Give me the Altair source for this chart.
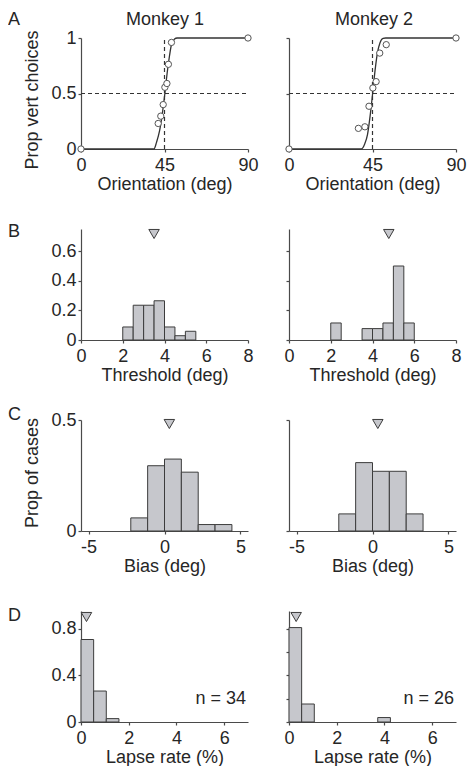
import altair as alt
import pandas as pd

FONT = "Liberation Sans"
FS = 18
BAR_FILL = "#c6c7cc"
EDGE = "#3c3c3c"
AXIS = "#4a4a4a"
TXT = "#262626"
W, H = 167, 111

# ---------------- Panel A: psychometric data ----------------
m1_ori = [0, 41.6, 43.0, 44.3, 45.2, 46.3, 47.1, 48.75, 90]
m1_prop = [0, 0.23, 0.296, 0.40, 0.556, 0.59, 0.763, 0.96, 1]
m2_ori = [0, 37.4, 40.9, 43.1, 45.2, 46.95, 48.9, 52.4, 90]
m2_prop = [0, 0.186, 0.20, 0.385, 0.55, 0.607, 0.864, 0.94, 1]
m1_fit_x = [0, 39.3, 40.7, 42.3, 43.75, 45.2, 46.4, 47.7, 48.9, 50.4, 51.8, 90]
m1_fit_y = [0, 0, 0.06, 0.16, 0.31, 0.50, 0.68, 0.84, 0.95, 0.99, 1, 1]
m2_fit_x = [0, 39.0, 40.8, 42.3, 43.8, 45.2, 46.4, 47.7, 49.1, 50.7, 52.1, 90]
m2_fit_y = [0, 0, 0.045, 0.13, 0.31, 0.52, 0.71, 0.87, 0.96, 0.997, 1, 1]

# ---------------- Panel B: threshold histograms ----------------
thr_m1_lo = [2.0, 2.5, 3.0, 3.5, 4.0, 4.5, 5.0]
thr_m1_hi = [2.5, 3.0, 3.5, 4.0, 4.5, 5.0, 5.5]
thr_m1_p = [0.088, 0.235, 0.235, 0.265, 0.088, 0.029, 0.059]
thr_m2_lo = [2.0, 3.5, 4.0, 4.5, 5.0, 5.5]
thr_m2_hi = [2.5, 4.0, 4.5, 5.0, 5.5, 6.0]
thr_m2_p = [0.115, 0.077, 0.077, 0.115, 0.5, 0.115]
thr_mean = [3.5, 4.78]

# ---------------- Panel C: bias histograms ----------------
bias_m1_lo = [-2.22, -1.11, 0.0, 1.11, 2.22, 3.33]
bias_m1_hi = [-1.11, 0.0, 1.11, 2.22, 3.33, 4.44]
bias_m1_p = [0.059, 0.294, 0.324, 0.265, 0.029, 0.029]
bias_m2_lo = [-2.22, -1.11, 0.0, 1.11, 2.22]
bias_m2_hi = [-1.11, 0.0, 1.11, 2.22, 3.33]
bias_m2_p = [0.077, 0.308, 0.269, 0.269, 0.077]
bias_mean = [0.32, 0.35]

# ---------------- Panel D: lapse-rate histograms ----------------
lapse_m1_lo = [0.0, 0.53, 1.06]
lapse_m1_hi = [0.53, 1.06, 1.59]
lapse_m1_p = [0.706, 0.265, 0.029]
lapse_m2_lo = [0.0, 0.53, 3.72]
lapse_m2_hi = [0.53, 1.06, 4.25]
lapse_m2_p = [0.808, 0.154, 0.038]
lapse_mean = [0.23, 0.30]
n_labels = ["n = 34", "n = 26"]

titles = ["Monkey 1", "Monkey 2"]

LETTER_X = -73
YTITLE_X = -48


def text_layer(txt, x, y, align="left", baseline="alphabetic", angle=0):
    return alt.Chart(pd.DataFrame({"t": [txt]})).mark_text(
        align=align, baseline=baseline, font=FONT, fontSize=FS, color=TXT, angle=angle
    ).encode(text="t:N", x=alt.value(x), y=alt.value(y))


def xenc(field, domain, values, title):
    return alt.X(field, type="quantitative",
                 scale=alt.Scale(domain=domain, nice=False, zero=False),
                 axis=alt.Axis(values=values, title=title, labelFlush=False,
                               labelExpr="datum.value + ''"))


def yenc(field, domain, values, labels, label_values=None):
    kw = dict(values=values, title=None, labelFlush=False)
    if not labels:
        kw["labels"] = False
    elif label_values is not None:
        cond = " || ".join(f"datum.value == {v}" for v in label_values)
        kw["labelExpr"] = f"({cond}) ? (datum.value + '') : ''"
    else:
        kw["labelExpr"] = "datum.value + ''"
    return alt.Y(field, type="quantitative",
                 scale=alt.Scale(domain=domain, nice=False, zero=False),
                 axis=alt.Axis(**kw))


def psych_panel(ori, prop, fx, fy, left, title):
    xd, xv, xt = [0, 90], [0, 45, 90], "Orientation (deg)"
    yd, yv = [0, 1], [0, 0.5, 1]
    dash = dict(color="#333", strokeWidth=1.2, strokeDash=[4, 3])
    hline = alt.Chart(pd.DataFrame({"x": [0, 90], "y": [0.5, 0.5]})).mark_line(**dash).encode(
        x=xenc("x", xd, xv, xt), y=yenc("y", yd, yv, left))
    vline = alt.Chart(pd.DataFrame({"x": [45, 45], "y": [0, 1]})).mark_line(**dash).encode(
        x=xenc("x", xd, xv, xt), y=yenc("y", yd, yv, left))
    fit = alt.Chart(pd.DataFrame({"x": fx, "y": fy})).mark_line(
        color="#333", strokeWidth=1.3, interpolate="monotone").encode(
        x=xenc("x", xd, xv, xt), y=yenc("y", yd, yv, left))
    pts = alt.Chart(pd.DataFrame({"x": ori, "y": prop})).mark_point(
        shape="circle", filled=True, fill="white", stroke="#555", strokeWidth=1,
        size=40, opacity=1).encode(
        x=xenc("x", xd, xv, xt), y=yenc("y", yd, yv, left))
    layers = [hline, vline, fit, pts,
              text_layer(title, 84 if left else 85, -13, align="center")]
    if left:
        layers.append(text_layer("A", LETTER_X, -13))
        layers.append(text_layer("Prop vert choices", YTITLE_X, 62, align="center",
                                 baseline="middle", angle=270))
    return alt.layer(*layers).properties(width=W, height=H)


def hist_panel(lo, hi, p, mean, xd, xv, xt, yd, yv, left, tri_y,
               letter=None, letter_y=0, ylabel=None, label_values=None, ntext=None):
    df = pd.DataFrame({"lo": lo, "hi": hi, "p": p})
    bars = alt.Chart(df).mark_rect(fill=BAR_FILL, stroke=EDGE, strokeWidth=1).encode(
        x=xenc("lo", xd, xv, xt), x2="hi",
        y=yenc("p", yd, yv, left, label_values), y2=alt.datum(0))
    tri = alt.Chart(pd.DataFrame({"lo": [mean]})).mark_point(
        shape="triangle-down", filled=True, fill=BAR_FILL, stroke=EDGE,
        strokeWidth=1, size=110, opacity=1).encode(
        x=xenc("lo", xd, xv, xt), y=alt.value(tri_y))
    layers = [bars, tri]
    if letter:
        layers.append(text_layer(letter, LETTER_X, letter_y))
    if ylabel:
        layers.append(text_layer(ylabel, YTITLE_X, 53, align="center",
                                 baseline="middle", angle=270))
    if ntext:
        layers.append(text_layer(ntext, W - 2, H - 18, align="right"))
    return alt.layer(*layers).properties(width=W, height=H)


thr_args = dict(xd=[0, 8], xv=[0, 2, 4, 6, 8], xt="Threshold (deg)",
                yd=[0, 0.75], yv=[0, 0.2, 0.4, 0.6], tri_y=5)
bias_args = dict(xd=[-5.5, 5.5], xv=[-5, 0, 5], xt="Bias (deg)",
                 yd=[0, 0.5], yv=[0, 0.5], tri_y=4)
lapse_args = dict(xd=[0, 7], xv=[0, 2, 4, 6], xt="Lapse rate (%)",
                  yd=[0, 0.95], tri_y=6)

panels = [
    psych_panel(m1_ori, m1_prop, m1_fit_x, m1_fit_y, True, titles[0]),
    psych_panel(m2_ori, m2_prop, m2_fit_x, m2_fit_y, False, titles[1]),
    hist_panel(thr_m1_lo, thr_m1_hi, thr_m1_p, thr_mean[0], left=True,
               letter="B", letter_y=8, **thr_args),
    hist_panel(thr_m2_lo, thr_m2_hi, thr_m2_p, thr_mean[1], left=False, **thr_args),
    hist_panel(bias_m1_lo, bias_m1_hi, bias_m1_p, bias_mean[0], left=True,
               letter="C", letter_y=0, ylabel="Prop of cases", **bias_args),
    hist_panel(bias_m2_lo, bias_m2_hi, bias_m2_p, bias_mean[1], left=False, **bias_args),
    hist_panel(lapse_m1_lo, lapse_m1_hi, lapse_m1_p, lapse_mean[0], left=True,
               yv=[0, 0.4, 0.8], letter="D", letter_y=10, ntext=n_labels[0], **lapse_args),
    hist_panel(lapse_m2_lo, lapse_m2_hi, lapse_m2_p, lapse_mean[1], left=False,
               yv=[0, 0.2, 0.4, 0.6, 0.8], ntext=n_labels[1], **lapse_args),
]

chart = alt.concat(*panels, columns=2, spacing=alt.RowColnumber(row=80, column=41),
                   bounds="flush").properties(
    padding={"top": 3, "left": 0, "right": 0, "bottom": 0}, background="white"
).configure_view(stroke=None).configure_axis(
    domainColor=AXIS, tickColor=AXIS, labelColor=TXT, titleColor=TXT,
    labelFont=FONT, titleFont=FONT, labelFontSize=FS, titleFontSize=FS,
    titleFontWeight="normal", tickSize=3, grid=False, domainWidth=1.2, tickWidth=1.2
).configure_axisX(labelPadding=4, titlePadding=1).configure_axisY(labelPadding=2)

chart.save("out.html", embed_options={"renderer": "svg", "actions": False})
